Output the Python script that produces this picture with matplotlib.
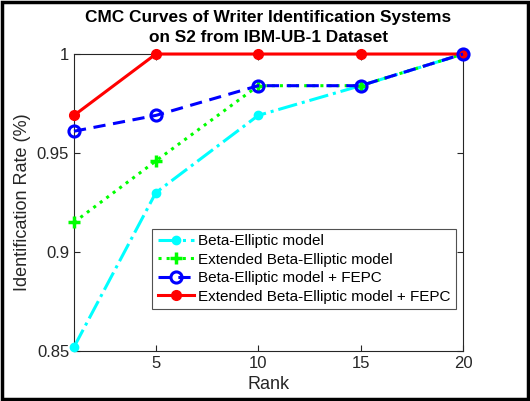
import matplotlib.pyplot as plt
from matplotlib.patches import Rectangle

plt.rcParams['font.family'] = ['Liberation Sans', 'DejaVu Sans']

# Data
rank = [1, 5, 10, 15, 20]
beta_elliptic = [0.852, 0.930, 0.969, 0.984, 1.0]
ext_beta_elliptic = [0.915, 0.946, 0.984, 0.984, 1.0]
beta_fepc = [0.961, 0.969, 0.984, 0.984, 1.0]
ext_beta_fepc = [0.969, 1.0, 1.0, 1.0, 1.0]

labels = ['Beta-Elliptic model', 'Extended Beta-Elliptic model',
          'Beta-Elliptic model + FEPC', 'Extended Beta-Elliptic model + FEPC']

fig = plt.figure(figsize=(5.3, 4.01), dpi=100)
ax = fig.add_axes([0.1396, 0.1247, 0.734, 0.7406])

ax.plot(rank, beta_elliptic, color='cyan', ls='-.', lw=2.2, marker='o', ms=6,
        mfc='cyan', mec='cyan', label=labels[0], clip_on=False, zorder=3)
ax.plot(rank, ext_beta_elliptic, color='#00ff00', ls=':', lw=2.2, marker='+', ms=8,
        mew=2.5, label=labels[1], clip_on=False, zorder=3.2)
ax.plot(rank, beta_fepc, color='blue', ls=(0, (4, 2.5)), lw=2.2, marker='o', ms=8,
        mfc='none', mec='blue', mew=2.2, label=labels[2], clip_on=False, zorder=4)
ax.plot(rank, ext_beta_fepc, color='red', ls='-', lw=2.2, marker='o', ms=7,
        mfc='red', mec='red', label=labels[3], clip_on=False, zorder=3.5)

ax.set_xlim(1, 20)
ax.set_ylim(0.85, 1.0)
ax.set_xticks([5, 10, 15, 20])
ax.set_yticks([0.85, 0.9, 0.95, 1.0])
ax.set_yticklabels(['0.85', '0.9', '0.95', '1'])
ax.tick_params(direction='in', top=True, right=True, labelsize=12,
               colors='#262626', length=4)
for s in ax.spines.values():
    s.set_linewidth(0.8)
    s.set_color('#262626')

ax.set_xlabel('Rank', fontsize=13, color='#262626', labelpad=4)
ax.set_ylabel('Identification Rate (%)', fontsize=13, color='#262626', labelpad=4)
ax.set_title('CMC Curves of Writer Identification Systems\non S2 from IBM-UB-1 Dataset',
             fontsize=12.4, fontweight='bold', pad=9, linespacing=1.35)

leg = ax.legend(loc='lower right', bbox_to_anchor=(0.982, 0.141), fontsize=11,
                frameon=True, fancybox=False, edgecolor='#262626',
                handlelength=2.4, handletextpad=0.25, borderpad=0.35,
                labelspacing=0.3, borderaxespad=0)
leg.get_frame().set_linewidth(0.8)
leg.set_zorder(10)

fig.patches.append(Rectangle((0.003, 0.004), 0.994, 0.992, transform=fig.transFigure,
                             fill=False, edgecolor='black', linewidth=2.5))

fig.savefig('out.png', dpi=100)
